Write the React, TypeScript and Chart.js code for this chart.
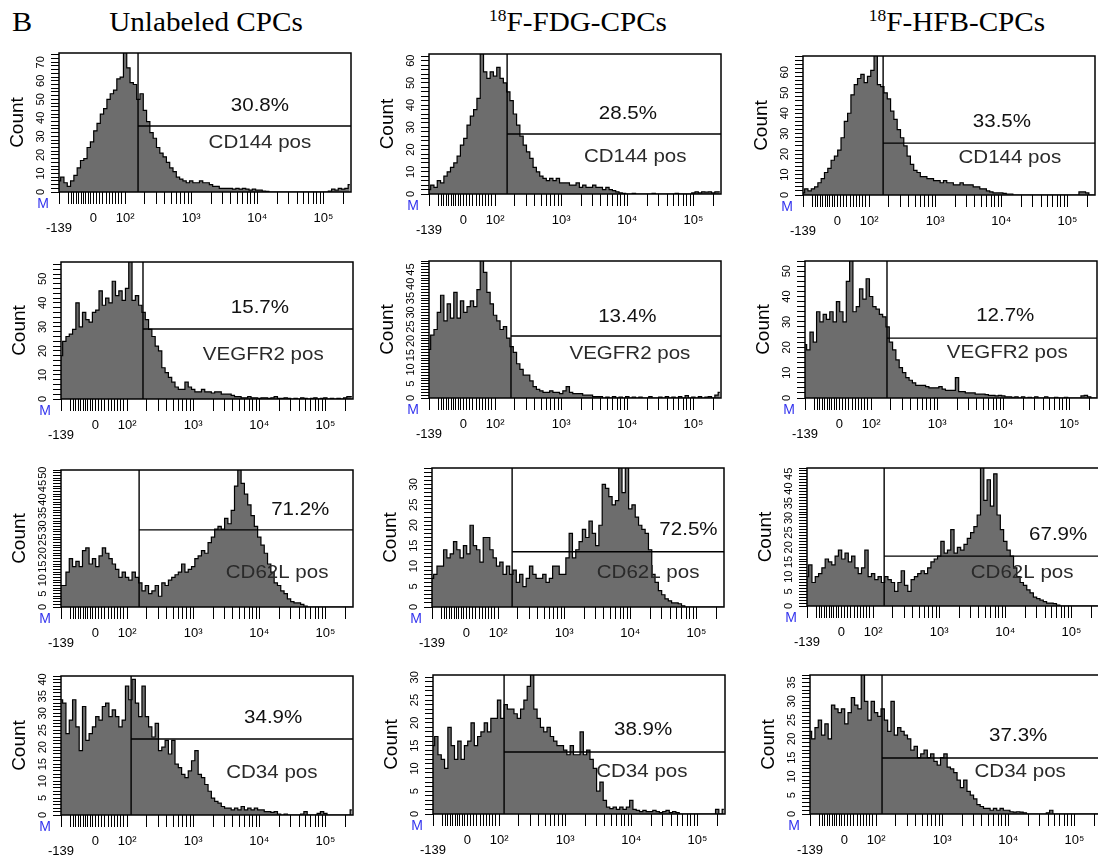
import React, { useEffect, useRef } from 'react';
import { Chart, registerables } from 'chart.js';

Chart.register(...registerables);

// ---------- x axis (display channel units of the logicle axis) ----------
const X_MIN = 1.0;
const X_MAX = 5.418;
const ZERO_POS = 1.52;
const BIN_COUNT = 89;
const BIN_START = 1.0;
const BIN_STEP = 0.05;
const BIN_CENTERS = Array.from({ length: BIN_COUNT }, (_, i) => +(BIN_START + i * BIN_STEP).toFixed(2));

const X_TICK_VALUES = [
  -139, -100, -90, -80, -70, -60, -50, -40, -30, -20, -10, 0, 10, 20, 30, 40, 50, 60, 70, 80, 90,
  100, 200, 300, 400, 500, 600, 700, 800, 900,
  1000, 2000, 3000, 4000, 5000, 6000, 7000, 8000, 9000,
  10000, 20000, 30000, 40000, 50000, 60000, 70000, 80000, 90000,
  100000, 200000,
];
const X_TICK_TEXT: Record<string, string | string[]> = {
  '-139': ['', '-139'],
  '0': '0',
  '100': '10²',
  '1000': '10³',
  '10000': '10⁴',
  '100000': '10⁵',
};

// ---------- histogram counts (one value per channel bin) ----------
const H_CD144_UNL = [
  6, 8, 5, 3, 6, 9, 13, 17, 18, 24,
  27, 33, 37, 42, 45, 50, 53, 55, 61, 62,
  95, 67, 59, 58, 50, 53, 44, 38, 32, 29,
  24, 21, 19, 16, 13, 11, 8, 7, 6, 5,
  6, 5, 5, 6, 5, 5, 4, 3, 3, 2,
  2, 2, 2, 1.5, 2, 1.5, 2, 1.5, 1, 1.5,
  1, 1, 0.5, 0.3, 0, 0, 0, 0, 0, 0,
  0, 0, 0, 0, 0, 0, 0, 0, 0, 0,
  0, 0, 0.5, 1.5, 1, 2, 1.5, 2, 4,
];
const H_CD144_FDG = [
  2, 4, 3, 6, 5, 8, 10, 12, 14, 17,
  22, 25, 31, 35, 38, 43, 80, 55, 52, 55,
  53, 57, 52, 50, 46, 42, 36, 31, 26, 22,
  19, 16, 12, 10, 8, 7, 6, 7, 6, 7,
  5, 5, 5, 4, 4, 5, 3, 4, 3, 3,
  4, 3, 3, 2, 3, 2, 1.5, 1, 0.5, 0.3,
  0, 0, 0.3, 0, 0, 0, 0, 0, 0.3, 0,
  0, 0, 0, 0, 0, 0.3, 0, 0, 0, 0,
  0.5, 1, 0.5, 1, 0.8, 1, 0.5, 1, 1,
];
const H_CD144_HFB = [
  1, 3, 2, 3, 4, 6, 8, 11, 13, 17,
  19, 22, 28, 36, 40, 49, 54, 57, 59, 55,
  58, 61, 85, 54, 53, 50, 47, 41, 37, 32,
  28, 24, 19, 15, 12, 11, 9, 9, 8, 8,
  7, 7, 6, 7, 6, 6, 5, 5, 6, 5,
  5, 5, 4, 4, 3, 3, 2, 1.5, 1, 1,
  1, 0.8, 0.5, 0.5, 0, 0, 0, 0, 0, 0,
  0, 0, 0, 0, 0, 0, 0, 0, 0, 0,
  0, 0, 0, 0, 1.5, 1.5, 1, 0, 0,
];
const H_VEGFR2_UNL = [
  18, 24, 26, 27, 29, 40, 30, 36, 33, 32,
  36, 37, 45, 39, 42, 40, 49, 43, 45, 41,
  46, 70, 41, 43, 39, 36, 33, 29, 26, 22,
  20, 13, 11, 9, 7, 5, 4, 4, 7, 5,
  4, 3, 3, 4, 3, 3, 2.5, 3, 3, 2,
  2, 2, 1.5, 1, 1, 0.5, 0.5, 1, 0.5, 0.5,
  0.3, 0.5, 0.5, 0.3, 0.5, 1, 0.3, 0.3, 0.5, 0.3,
  0, 0.3, 0, 0.5, 0.3, 0, 0.3, 0.5, 0, 0.3,
  0.5, 0, 0.3, 0, 0.3, 0, 0.5, 1, 1,
];
const H_VEGFR2_FDG = [
  17, 22, 24, 30, 36, 27, 33, 28, 37, 28,
  34, 30, 32, 34, 32, 38, 62, 44, 37, 33,
  29, 27, 24, 25, 21, 18, 16, 12, 10, 8,
  8, 6, 4, 3, 2.5, 2, 2, 2.5, 2, 2,
  1.5, 2.5, 4, 2, 1.5, 1.5, 1.5, 1, 1, 1,
  0.5, 0.5, 0.5, 0, 0.3, 0, 0.5, 0, 0.3, 0,
  0.5, 0, 0.3, 0, 0.3, 0, 0, 0.5, 0, 0,
  0.3, 0, 0.5, 0, 0.3, 0, 0.5, 0, 0.8, 0,
  0.3, 0, 0.5, 0, 0.3, 0.5, 0, 1, 2,
];
const H_VEGFR2_HFB = [
  21, 19, 26, 22, 34, 30, 33, 31, 34, 30,
  38, 34, 30, 46, 70, 34, 36, 43, 39, 47,
  40, 36, 35, 33, 32, 28, 22, 19, 15, 12,
  10, 8, 7, 6, 5, 5, 5, 4.5, 4, 4,
  4, 4.5, 3.5, 3, 3, 3, 8, 2.5, 2.5, 2,
  2, 2, 1.5, 1.5, 1.5, 1.3, 1, 1, 0.8, 1,
  0.8, 0.5, 0.5, 0.3, 0.5, 0, 0.5, 0, 0.3, 0,
  0.5, 0, 0, 0.5, 0, 0, 0.3, 0, 0, 0.3,
  0, 0, 0, 0, 0.8, 1, 0.5, 0, 0,
];
const H_CD62L_UNL = [
  8, 8, 13, 18, 15, 17, 15, 21, 22, 16,
  18, 15, 19, 22, 20, 18, 16, 14, 11, 13,
  11, 10, 13, 11, 9, 6, 8, 5, 6, 8,
  4, 9, 8, 10, 11, 12, 13, 16, 13, 14,
  15, 18, 19, 21, 20, 24, 26, 29, 30, 29,
  33, 31, 36, 45, 52, 46, 42, 38, 34, 30,
  26, 23, 20, 16, 13, 9, 8, 6, 5, 3,
  2, 1.5, 1.5, 1, 0.3, 0, 0, 0, 0, 0,
  0, 0, 0, 0, 0, 0, 0, 0, 0,
];
const H_CD62L_FDG = [
  7, 8, 10, 10, 14, 12, 13, 16, 14, 12,
  15, 13, 20, 15, 14, 11, 17, 17, 14, 12,
  10, 11, 8, 10, 8, 9, 6, 8, 5, 7,
  10, 8, 7, 7, 8, 6, 7, 10, 10, 8,
  8, 12, 18, 12, 14, 16, 19, 17, 21, 18,
  15, 20, 30, 29, 27, 25, 26, 40, 28, 40,
  24, 25, 22, 20, 19, 18, 14, 8, 6, 4,
  3, 2, 1.5, 1, 1, 0.8, 0.3, 0, 0, 0,
  0, 0, 0, 0, 0, 0, 0, 0, 0,
];
const H_CD62L_HFB = [
  10, 14, 8, 10, 11, 13, 16, 15, 14, 17,
  19, 16, 18, 15, 17, 13, 11, 13, 19, 10,
  11, 9, 10, 8, 10, 9, 8, 5, 8, 12,
  7, 5, 9, 10, 11, 12, 11, 13, 15, 16,
  17, 22, 18, 19, 26, 18, 20, 19, 21, 23,
  25, 27, 31, 60, 36, 43, 34, 45, 31, 26,
  22, 19, 17, 13, 10, 8, 7, 5.5, 4.5, 3,
  2.5, 2, 1.5, 1, 1, 0.8, 0.3, 0, 0, 0,
  0, 0, 0, 0, 0, 0, 0, 0, 0,
];
const H_CD34_UNL = [
  34, 33, 24, 28, 34, 26, 19, 32, 22, 24,
  26, 29, 28, 32, 33, 29, 31, 29, 26, 28,
  38, 34, 40, 33, 29, 38, 29, 26, 23, 27,
  19, 20, 22, 18, 22, 15, 14, 12, 11, 13,
  16, 19, 12, 11, 9, 7, 5, 4, 3.5, 2.5,
  2, 2, 1.5, 2, 1.5, 2.5, 1.5, 2, 1.5, 2,
  1.5, 1.5, 1, 1, 0.8, 1, 0.3, 0, 0.3, 0,
  0, 0, 0, 0.3, 1, 0, 0, 0, 0.5, 1,
  0.5, 0, 0, 0, 0, 0, 0, 0, 1.5,
];
const H_CD34_FDG = [
  15, 17, 13, 12, 10, 19, 15, 12, 16, 12,
  15, 16, 20, 15, 17, 18, 20, 18, 21, 21,
  25, 21, 24, 23, 23, 22, 21, 23, 25, 28,
  40, 23, 21, 19, 18, 19, 17, 16, 15, 15,
  14, 13, 15, 13, 13, 18, 13, 14, 12, 10,
  5, 7, 3, 1.5, 1.2, 1.5, 1, 1.5, 1, 1.5,
  3, 1, 0.8, 0.5, 0.8, 0.5, 0.5, 0.8, 0.5, 0.3,
  0.5, 0.8, 0.3, 0.5, 0.3, 0, 0, 0, 0, 0,
  0, 0, 0, 0, 0, 0, 1, 0, 1,
];
const H_CD34_HFB = [
  22, 20, 23, 25, 21, 24, 20, 29, 28, 27,
  28, 24, 27, 31, 29, 28, 50, 30, 25, 30,
  27, 26, 28, 25, 22, 30, 21, 23, 22, 21,
  20, 17, 18, 15, 16, 17, 15, 16, 14, 13,
  15, 16, 12.5, 12, 11, 9, 7, 9, 6, 5,
  4, 2.5, 2, 1.5, 1.5, 1, 1.5, 1, 1.5, 1,
  1, 0.6, 0.5, 0.6, 0.5, 0.3, 0, 0, 0, 0,
  0, 0, 0.3, 1, 0, 0, 0, 0, 0, 0,
  0, 0, 0, 0, 0, 0, 0, 0, 0,
];

// panel order: row by row (CD144, VEGFR2, CD62L, CD34) x (Unlabeled, FDG, HFB)
const HISTOGRAMS = [
  H_CD144_UNL, H_CD144_FDG, H_CD144_HFB,
  H_VEGFR2_UNL, H_VEGFR2_FDG, H_VEGFR2_HFB,
  H_CD62L_UNL, H_CD62L_FDG, H_CD62L_HFB,
  H_CD34_UNL, H_CD34_FDG, H_CD34_HFB,
];
const Y_MAX = [75, 63, 68, 57, 48, 54, 51, 34, 47, 41, 30.5, 37];
const Y_LABEL_STEP = [10, 10, 10, 10, 5, 10, 5, 5, 5, 5, 5, 5];
const GATE_X = [157, 152, 163, 174, 174, 174, 152, 163, 147, 115, 119, 123];
const GATE_Y = [35.6, 27.0, 25.4, 29.1, 21.7, 23.6, 28.7, 13.5, 17.0, 22.4, 13.6, 14.9];
const GATE_PCT = ['30.8%', '28.5%', '33.5%', '15.7%', '13.4%', '12.7%', '71.2%', '72.5%', '67.9%', '34.9%', '38.9%', '37.3%'];
const GATE_NAME = [
  'CD144 pos', 'CD144 pos', 'CD144 pos',
  'VEGFR2 pos', 'VEGFR2 pos', 'VEGFR2 pos',
  'CD62L pos', 'CD62L pos', 'CD62L pos',
  'CD34 pos', 'CD34 pos', 'CD34 pos',
];

const COLUMN_SUP = ['', '18', '18'];
const COLUMN_NAME = ['Unlabeled CPCs', 'F-FDG-CPCs', 'F-HFB-CPCs'];

// ---------- layout ----------
const PANEL_LEFT = [59, 429, 803, 61, 429, 805, 61, 432, 807, 61, 433, 810];
const PANEL_TOP = [53, 54, 56, 262, 261, 261, 470, 468, 468, 676, 675, 675];
const PANEL_H = [139, 140, 139, 137, 137, 137, 137, 139, 138, 139, 139, 139];
const PANEL_W = 292;
const AXIS_W = 60;
const PAD_TOP = 14;
const PAD_RIGHT = 10;
const AXIS_H = 45;
const PCT_AT = [
  [4.04, 46.4], [4.01, 36.0], [4.01, 35.7],
  [4.01, 37.9], [4.0, 28.4], [4.03, 32.3],
  [4.62, 36.1], [4.88, 18.8], [4.8, 24.2],
  [4.21, 28.6], [4.18, 18.4], [4.15, 20.8],
];
const NAME_AT = [
  [4.04, 26.4], [4.12, 16.7], [4.13, 18.1],
  [4.06, 18.3], [4.04, 15.4], [4.06, 17.7],
  [4.27, 12.7], [4.27, 8.3], [4.255, 11.2],
  [4.19, 12.4], [4.16, 9.2], [4.18, 11.2],
];
const TITLE_CENTER = [206, 578, 957];

const SANS = '"Liberation Sans", Arial, Helvetica, sans-serif';
const SERIF = '"Liberation Serif", "Times New Roman", Times, serif';

function toDisplay(v: number): number {
  if (v >= 100) return Math.log10(v);
  if (v >= 0) return ZERO_POS + (v / 100) * (2 - ZERO_POS);
  return ZERO_POS + (v / 139) * (ZERO_POS - X_MIN);
}

function makeConfig(i: number): any {
  const yMax = Y_MAX[i];
  const step = Y_LABEL_STEP[i];
  const minor = step >= 10 ? 2 : 1;
  const gx = toDisplay(GATE_X[i]);
  const gy = GATE_Y[i];

  const decor = {
    id: 'decor',
    afterDatasetsDraw(chart: any) {
      const { ctx, chartArea: a, scales } = chart;
      ctx.save();
      ctx.strokeStyle = '#000';
      ctx.lineWidth = 1.5;
      ctx.strokeRect(a.left, a.top, a.right - a.left, a.bottom - a.top);

      const put = (txt: string, at: number[], color: string) => {
        const px = scales.x.getPixelForValue(at[0]);
        const py = scales.y.getPixelForValue(at[1]);
        ctx.save();
        ctx.translate(px, py);
        ctx.scale(1.08, 1);
        ctx.font = `19px ${SANS}`;
        ctx.textAlign = 'center';
        ctx.textBaseline = 'middle';
        ctx.fillStyle = color;
        ctx.fillText(txt, 0, 0);
        ctx.restore();
      };
      put(GATE_PCT[i], PCT_AT[i], '#111');
      put(GATE_NAME[i], NAME_AT[i], '#2a2a2a');

      ctx.font = `14px ${SANS}`;
      ctx.textAlign = 'center';
      ctx.textBaseline = 'middle';
      ctx.fillStyle = '#3434ee';
      ctx.fillText('M', a.left - 16, a.bottom + 12);
      ctx.restore();
    },
  };

  return {
    type: 'line',
    data: {
      datasets: [
        {
          data: HISTOGRAMS[i].map((c, k) => ({ x: BIN_CENTERS[k], y: c })),
          fill: 'origin',
          stepped: 'middle',
          backgroundColor: '#6d6d6d',
          borderColor: '#000',
          borderWidth: 1.2,
          pointRadius: 0,
          order: 3,
        },
        {
          data: [{ x: gx, y: 0 }, { x: gx, y: yMax }],
          borderColor: '#000',
          borderWidth: 1.4,
          pointRadius: 0,
          fill: false,
          order: 1,
        },
        {
          data: [{ x: gx, y: gy }, { x: X_MAX, y: gy }],
          borderColor: '#000',
          borderWidth: 1.4,
          pointRadius: 0,
          fill: false,
          order: 2,
        },
      ],
    },
    options: {
      animation: false,
      responsive: false,
      devicePixelRatio: 1,
      events: [],
      layout: { padding: { left: 0, top: PAD_TOP, right: PAD_RIGHT, bottom: 0 } },
      plugins: { legend: { display: false }, tooltip: { enabled: false }, title: { display: false } },
      scales: {
        x: {
          type: 'linear',
          min: X_MIN,
          max: X_MAX,
          bounds: 'data',
          afterBuildTicks: (s: any) => {
            s.ticks = X_TICK_VALUES.map((v) => ({ value: toDisplay(v) }));
          },
          afterFit: (s: any) => {
            s.height = AXIS_H;
          },
          grid: { display: true, drawOnChartArea: false, drawTicks: true, tickLength: 12, tickColor: '#000', tickWidth: 1 },
          border: { display: false },
          ticks: {
            autoSkip: false,
            maxRotation: 0,
            minRotation: 0,
            padding: 10,
            color: '#000',
            font: { family: SANS, size: 13, lineHeight: 0.72 },
            callback: (_v: any, idx: number) => {
              const t = X_TICK_TEXT[String(X_TICK_VALUES[idx])];
              return t === undefined ? '' : t;
            },
          },
        },
        y: {
          type: 'linear',
          min: 0,
          max: yMax,
          bounds: 'data',
          afterBuildTicks: (s: any) => {
            const t: any[] = [];
            for (let v = 0; v <= yMax; v += minor) t.push({ value: v });
            s.ticks = t;
          },
          afterFit: (s: any) => {
            s.width = AXIS_W;
          },
          grid: { display: true, drawOnChartArea: false, drawTicks: true, tickLength: 8, tickColor: '#000', tickWidth: 1 },
          border: { display: false },
          ticks: {
            autoSkip: false,
            minRotation: 90,
            maxRotation: 90,
            crossAlign: 'center',
            padding: 4,
            color: '#000',
            font: { family: SANS, size: 11 },
            callback: (v: number) => (v % step === 0 ? String(v) : ''),
          },
          title: {
            display: true,
            text: 'Count',
            color: '#000',
            font: { family: SANS, size: 19, lineHeight: 1.2 },
            padding: { top: 7.6, bottom: 0 },
          },
        },
      },
    },
    plugins: [decor],
  };
}

function Panel({ index }: { index: number }) {
  const ref = useRef<HTMLCanvasElement>(null);
  useEffect(() => {
    if (!ref.current) return;
    const chart = new Chart(ref.current, makeConfig(index));
    return () => chart.destroy();
  }, [index]);
  const w = AXIS_W + PANEL_W + PAD_RIGHT;
  const h = PAD_TOP + PANEL_H[index] + AXIS_H;
  return (
    <canvas
      ref={ref}
      width={w}
      height={h}
      style={{ position: 'absolute', left: PANEL_LEFT[index] - AXIS_W, top: PANEL_TOP[index] - PAD_TOP, width: w, height: h }}
    />
  );
}

export default function App() {
  const titleBase: React.CSSProperties = {
    position: 'absolute',
    top: 9,
    fontFamily: SERIF,
    fontSize: 27,
    lineHeight: '27px',
    color: '#000',
    whiteSpace: 'nowrap',
  };
  return (
    <div style={{ position: 'absolute', left: 0, top: 0, width: 1098, height: 858, overflow: 'hidden', background: '#fff' }}>
      <div style={{ ...titleBase, left: 12, transform: 'scaleX(1.12)', transformOrigin: 'left center' }}>B</div>
      {COLUMN_NAME.map((name, c) => (
        <div
          key={c}
          style={{ ...titleBase, left: TITLE_CENTER[c] - 200, width: 400, textAlign: 'center', transform: 'scaleX(1.08)' }}
        >
          {COLUMN_SUP[c] ? (
            <span style={{ fontSize: '0.6em', position: 'relative', top: '-0.62em' }}>{COLUMN_SUP[c]}</span>
          ) : null}
          {name}
        </div>
      ))}
      {HISTOGRAMS.map((_, i) => (
        <Panel key={i} index={i} />
      ))}
    </div>
  );
}
